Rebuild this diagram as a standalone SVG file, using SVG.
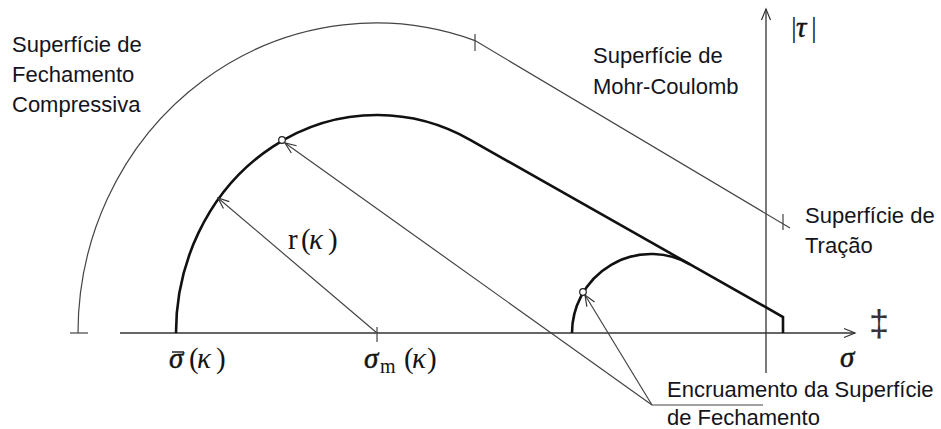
<svg xmlns="http://www.w3.org/2000/svg" width="941" height="429" viewBox="0 0 941 429">
<style>
.lbl{font-family:"Liberation Sans",Arial,sans-serif;font-size:22px;fill:#141420}
.math{font-family:"Liberation Serif","Times New Roman",serif;font-size:29px;fill:#141414}
.it{font-style:italic}
.sig{font-style:italic;stroke:#141414;stroke-width:0.5}
.thin{fill:none;stroke:#444;stroke-width:1.2}
.axis{fill:none;stroke:#333;stroke-width:1.3}
.thick{fill:none;stroke:#111;stroke-width:2.6;stroke-linejoin:miter}
.dot{fill:#fff;stroke:#222;stroke-width:1.2}
</style>
<defs>
<marker id="arr" markerUnits="userSpaceOnUse" markerWidth="14" markerHeight="12" refX="11" refY="5" orient="auto" overflow="visible">
<path d="M0,0.5 L11,5 L0,9.5" fill="none" stroke="#333" stroke-width="1.2"/>
</marker>
</defs>
<rect width="941" height="429" fill="#fff"/>

<g id="axes">
<path class="axis" d="M120,333 L855,333" marker-end="url(#arr)"/>
<path class="axis" d="M766,373 L766,9" marker-end="url(#arr)"/>
</g>

<g id="compressive-cap-surface">
<path class="thin" d="M78,333 A298,310 0 0 1 475,40.6 L790,228"/>
<line class="thin" x1="70" y1="333" x2="88" y2="333"/>
<line class="thin" x1="475" y1="34" x2="475" y2="51"/>
<line class="thin" x1="783" y1="214" x2="783" y2="230"/>
</g>

<g id="hardening-cap-surface">
<path class="thick" d="M176,333 A201,218 0 0 1 470.1,139.8 L783,317 L783,333"/>
<path class="thick" d="M572,333 A78.95,78.95 0 0 1 689.9,264.3" stroke-width="2.2"/>
<line class="thin" x1="377" y1="327" x2="377" y2="342"/>
<circle class="dot" cx="282" cy="140" r="3.3"/>
<circle class="dot" cx="583" cy="292" r="3.3"/>
</g>

<g id="connectors">
<path class="thin" d="M377,333 L218,198" marker-end="url(#arr)"/>
<path class="thin" d="M652,405 L285,143" marker-end="url(#arr)"/>
<path class="thin" d="M652,405 L585,295" marker-end="url(#arr)"/>
<path class="thin" d="M652,405 L763,405"/>
</g>

<g id="label-compressiva">
<text class="lbl" x="12" y="52">Superfície de</text>
<text class="lbl" x="12" y="82">Fechamento</text>
<text class="lbl" x="12" y="112">Compressiva</text>
</g>
<g id="label-mohr">
<text class="lbl" x="593" y="63">Superfície de</text>
<text class="lbl" x="593" y="94">Mohr-Coulomb</text>
</g>
<g id="label-tracao">
<text class="lbl" x="805" y="223">Superfície de</text>
<text class="lbl" x="805" y="253">Tração</text>
</g>
<g id="label-encruamento">
<text class="lbl" x="667" y="397">Encruamento da Superfície</text>
<text class="lbl" x="667" y="425">de Fechamento</text>
</g>

<g id="math-labels">
<text class="math" y="37"><tspan x="791">|</tspan><tspan class="sig" x="796">τ</tspan><tspan x="811">|</tspan></text>
<text class="math" y="249"><tspan x="288">r</tspan><tspan x="301">(</tspan><tspan class="it" x="309">κ</tspan><tspan x="328">)</tspan></text>
<text class="math" y="368"><tspan class="sig" x="169">σ</tspan><tspan x="189">(</tspan><tspan class="it" x="197">κ</tspan><tspan x="216">)</tspan></text>
<line x1="172" y1="352" x2="184" y2="352" stroke="#141414" stroke-width="1.4"/>
<text class="math" y="368"><tspan class="sig" x="364">σ</tspan><tspan style="font-size:20px" x="380" y="373">m</tspan><tspan x="404" y="368">(</tspan><tspan class="it" x="412">κ</tspan><tspan x="427">)</tspan></text>
<text class="math sig" x="840" y="367">σ</text>
<text x="869" y="336" style="font-family:'Liberation Sans',Arial,sans-serif;font-size:36px;fill:#333">‡</text>
</g>
</svg>
